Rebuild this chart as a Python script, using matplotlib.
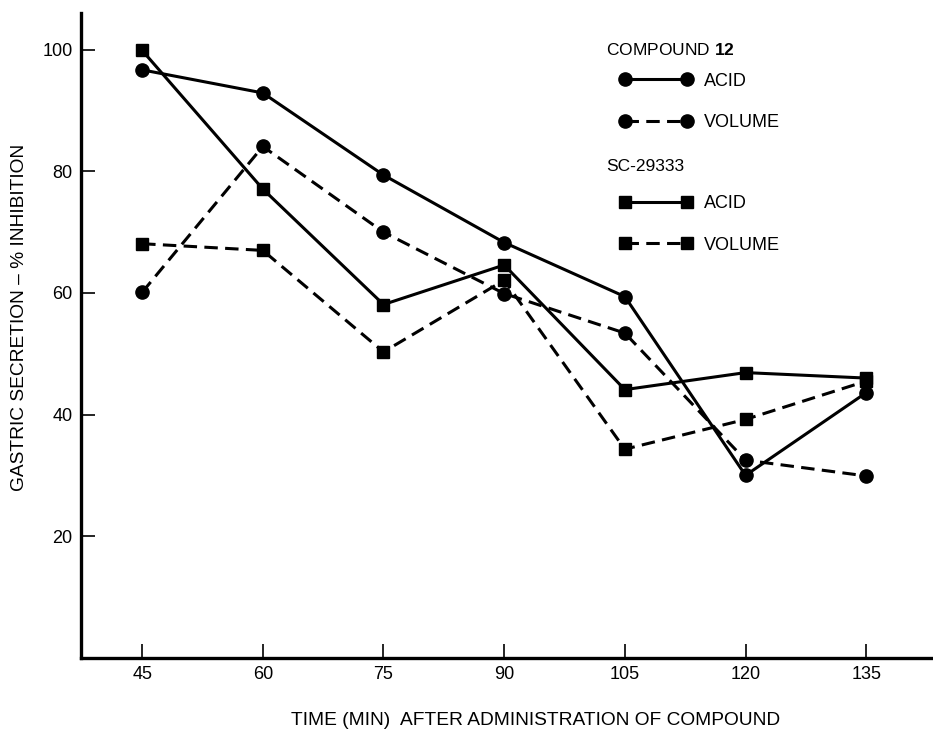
import matplotlib
matplotlib.use('Agg')
import matplotlib.pyplot as plt

plt.rcParams['font.family'] = ['Liberation Sans', 'DejaVu Sans']
plt.rcParams['mathtext.fontset'] = 'custom'
plt.rcParams['mathtext.rm'] = 'Liberation Sans'
plt.rcParams['mathtext.bf'] = 'Liberation Sans:bold'

# values
times = [45, 60, 75, 90, 105, 120, 135]
c12_acid = [96.7, 92.9, 79.4, 68.3, 59.4, 30.0, 43.6]
c12_volume = [60.1, 84.1, 70.0, 59.9, 53.4, 32.5, 29.9]
sc_acid = [99.9, 77.1, 58.1, 64.6, 44.1, 46.9, 46.0]
sc_volume = [68.1, 67.0, 50.3, 62.1, 34.3, 39.2, 45.5]
y_ticks = [20, 40, 60, 80, 100]

fig = plt.figure(figsize=(9.33, 7.3), dpi=100)
ax = fig.add_axes([0.0868, 0.099, 0.9132, 0.8836])

lw = 2.2
dash = (4.4, 2.4)
a, = ax.plot(times, c12_acid, color='black', lw=lw, marker='o', ms=9.5)
b, = ax.plot(times, c12_volume, color='black', lw=lw, marker='o', ms=9.5, dashes=dash)
c, = ax.plot(times, sc_acid, color='black', lw=lw, marker='s', ms=8)
d, = ax.plot(times, sc_volume, color='black', lw=lw, marker='s', ms=8, dashes=dash)

ax.set_xlim(37.4, 143.3)
ax.set_ylim(0, 106.1)
ax.set_xticks(times)
ax.set_yticks(y_ticks)
ax.tick_params(direction='in', length=10, width=1.2, labelsize=13, pad=6)
for s in ['top', 'right']:
    ax.spines[s].set_visible(False)
for s in ['left', 'bottom']:
    ax.spines[s].set_linewidth(2.4)

ax.set_xlabel('TIME (MIN)  AFTER ADMINISTRATION OF COMPOUND', fontsize=13.8)
ax.xaxis.set_label_coords(0.533, -0.0966)
ax.xaxis.label.set_va('center')
ax.set_ylabel('GASTRIC SECRETION – % INHIBITION', fontsize=13.8)
ax.yaxis.set_label_coords(-0.0716, 0.527)
ax.yaxis.label.set_va('center')

# legend headers + entries
ax.text(0.616, 0.942, 'COMPOUND $\\mathbf{12}$', transform=ax.transAxes,
        fontsize=12.5, va='center', ha='left')
ax.text(0.616, 0.762, 'SC-29333', transform=ax.transAxes,
        fontsize=12.5, va='center', ha='left')

opts = dict(loc='upper left', frameon=False, numpoints=2, handlelength=4.0,
            handletextpad=0.65, labelspacing=1.35, borderpad=0, borderaxespad=0,
            fontsize=13)
leg1 = ax.legend([a, b], ['ACID', 'VOLUME'], bbox_to_anchor=(0.6326, 0.907), **opts)
ax.add_artist(leg1)
ax.legend([c, d], ['ACID', 'VOLUME'], bbox_to_anchor=(0.6326, 0.717), **opts)

plt.savefig('out.png', dpi=100)
